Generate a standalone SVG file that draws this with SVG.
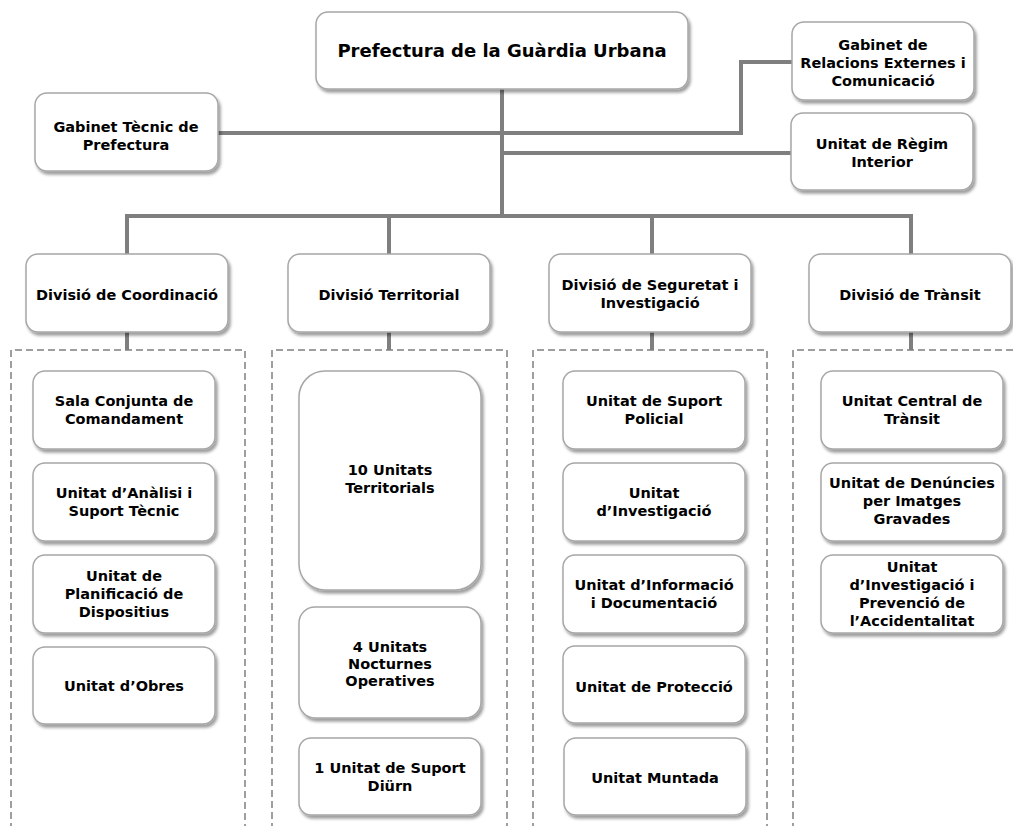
<svg xmlns="http://www.w3.org/2000/svg" width="1013" height="826" viewBox="0 0 1013 826">
<defs>
<filter id="sh" x="-10%" y="-10%" width="130%" height="140%">
<feDropShadow dx="2" dy="3" stdDeviation="1.8" flood-color="#000" flood-opacity="0.38"/>
</filter>
<style>
.b{fill:#fff;stroke:#a6a6a6;stroke-width:1.5;filter:url(#sh)}
.t{font-family:"DejaVu Sans",Verdana,sans-serif;font-weight:bold;font-size:14.5px;fill:#000;text-anchor:middle}
.big{font-size:18px}
.c{fill:none;stroke:#7f7f7f;stroke-width:4}
.d{fill:none;stroke:#7f7f7f;stroke-width:1.5;stroke-dasharray:7 4}
</style>
</defs>
<rect width="1013" height="826" fill="#fff"/>
<g id="connectors">
<path class="c" d="M502 89V216"/>
<path class="c" d="M218 133H741V62H792"/>
<path class="c" d="M502 153H791"/>
<path class="c" d="M127 254V216H911V254"/>
<path class="c" d="M389 216V254"/>
<path class="c" d="M652 216V254"/>
<path class="c" d="M127 332V350"/>
<path class="c" d="M389 332V350"/>
<path class="c" d="M652 332V350"/>
<path class="c" d="M911 332V350"/>
</g>
<g id="groups">
<path class="d" d="M11 830V350H245V830"/>
<path class="d" d="M272 830V350H507V830"/>
<path class="d" d="M533 830V350H767V830"/>
<path class="d" d="M793 830V350H1020"/>
</g>
<g id="n-prefectura"><rect class="b" x="316" y="12" width="372" height="77" rx="12"/><text class="t big" x="502" y="57">Prefectura de la Guàrdia Urbana</text></g>
<g id="n-gabinet-tecnic"><rect class="b" x="35" y="93" width="183" height="78" rx="12"/><text class="t" x="126" y="132">Gabinet Tècnic de<tspan x="126" dy="18">Prefectura</tspan></text></g>
<g id="n-gabinet-relacions"><rect class="b" x="792" y="22" width="182" height="78" rx="12"/><text class="t" x="883" y="50">Gabinet de<tspan x="883" dy="18">Relacions Externes i</tspan><tspan x="883" dy="18">Comunicació</tspan></text></g>
<g id="n-regim"><rect class="b" x="791" y="113" width="182" height="77" rx="12"/><text class="t" x="882" y="149">Unitat de Règim<tspan x="882" dy="18">Interior</tspan></text></g>
<g id="n-div-coord"><rect class="b" x="26" y="254" width="202" height="78" rx="12"/><text class="t" x="127" y="300">Divisió de Coordinació</text></g>
<g id="n-div-terr"><rect class="b" x="288" y="254" width="202" height="78" rx="12"/><text class="t" x="389" y="300">Divisió Territorial</text></g>
<g id="n-div-seg"><rect class="b" x="549" y="254" width="202" height="78" rx="12"/><text class="t" x="650" y="290">Divisió de Seguretat i<tspan x="650" dy="18">Investigació</tspan></text></g>
<g id="n-div-trans"><rect class="b" x="809" y="254" width="202" height="78" rx="12"/><text class="t" x="910" y="300">Divisió de Trànsit</text></g>
<g id="n-sala"><rect class="b" x="33" y="371" width="182" height="78" rx="12"/><text class="t" x="124" y="406">Sala Conjunta de<tspan x="124" dy="18">Comandament</tspan></text></g>
<g id="n-analisi"><rect class="b" x="33" y="463" width="182" height="78" rx="12"/><text class="t" x="124" y="498">Unitat d’Anàlisi i<tspan x="124" dy="18">Suport Tècnic</tspan></text></g>
<g id="n-planif"><rect class="b" x="33" y="555" width="182" height="78" rx="12"/><text class="t" x="124" y="581">Unitat de<tspan x="124" dy="18">Planificació de</tspan><tspan x="124" dy="18">Dispositius</tspan></text></g>
<g id="n-obres"><rect class="b" x="33" y="647" width="182" height="77" rx="12"/><text class="t" x="124" y="691">Unitat d’Obres</text></g>
<g id="n-10"><rect class="b" x="299" y="371" width="182" height="219" rx="26"/><text class="t" x="390" y="475">10 Unitats<tspan x="390" dy="18">Territorials</tspan></text></g>
<g id="n-4"><rect class="b" x="299" y="607" width="182" height="111" rx="16"/><text class="t" x="390" y="652">4 Unitats<tspan x="390" dy="17">Nocturnes</tspan><tspan x="390" dy="17">Operatives</tspan></text></g>
<g id="n-1"><rect class="b" x="299" y="738" width="182" height="77" rx="12"/><text class="t" x="390" y="773">1 Unitat de Suport<tspan x="390" dy="18">Diürn</tspan></text></g>
<g id="n-suport"><rect class="b" x="563" y="371" width="182" height="78" rx="12"/><text class="t" x="654" y="406">Unitat de Suport<tspan x="654" dy="18">Policial</tspan></text></g>
<g id="n-invest"><rect class="b" x="563" y="463" width="182" height="78" rx="12"/><text class="t" x="654" y="498">Unitat<tspan x="654" dy="18">d’Investigació</tspan></text></g>
<g id="n-info"><rect class="b" x="563" y="555" width="182" height="78" rx="12"/><text class="t" x="654" y="590">Unitat d’Informació<tspan x="654" dy="18">i Documentació</tspan></text></g>
<g id="n-prot"><rect class="b" x="563" y="646" width="182" height="77" rx="12"/><text class="t" x="654" y="692">Unitat de Protecció</text></g>
<g id="n-muntada"><rect class="b" x="564" y="738" width="182" height="77" rx="12"/><text class="t" x="655" y="783">Unitat Muntada</text></g>
<g id="n-central"><rect class="b" x="821" y="371" width="182" height="78" rx="12"/><text class="t" x="912" y="406">Unitat Central de<tspan x="912" dy="18">Trànsit</tspan></text></g>
<g id="n-denuncies"><rect class="b" x="821" y="463" width="182" height="78" rx="12"/><text class="t" x="912" y="488">Unitat de Denúncies<tspan x="912" dy="18">per Imatges</tspan><tspan x="912" dy="18">Gravades</tspan></text></g>
<g id="n-accid"><rect class="b" x="821" y="555" width="182" height="78" rx="12"/><text class="t" x="912" y="572">Unitat<tspan x="912" dy="18">d’Investigació i</tspan><tspan x="912" dy="18">Prevenció de</tspan><tspan x="912" dy="18">l’Accidentalitat</tspan></text></g>
</svg>
